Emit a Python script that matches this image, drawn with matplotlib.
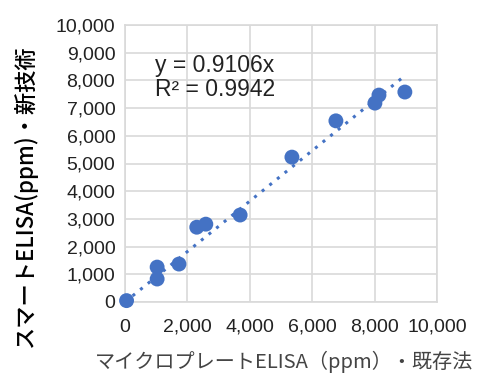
import matplotlib
matplotlib.use("Agg")
import matplotlib.pyplot as plt
import numpy as np

x_vals = [50, 1030, 1030, 1730, 2300, 2590, 3690, 5350, 6760, 8010, 8140, 8970]
y_vals = [50, 1260, 830, 1370, 2700, 2810, 3140, 5230, 6540, 7180, 7470, 7580]
slope = 0.9106
r2 = 0.9942
ticks = [0, 2000, 4000, 6000, 8000, 10000]
yticks = list(range(0, 10001, 1000))

plt.rcParams['font.family'] = ['Liberation Sans', 'Noto Sans CJK JP', 'DejaVu Sans']

fig = plt.figure(figsize=(4.78, 3.74), dpi=100)
ax = fig.add_axes([125/478, 1-302/374, (437-125)/478, (302-25)/374])

blue = '#4472C4'
xs = np.array([0, max(x_vals)])
ax.plot(xs, slope*xs, linestyle=(0, (1, 2.2)), color=blue, linewidth=2.2, zorder=2)
ax.scatter(x_vals, y_vals, s=115, color=blue, zorder=3, edgecolors='none', clip_on=False)

ax.set_xlim(0, 10000)
ax.set_ylim(0, 10000)
ax.set_xticks(ticks)
ax.set_yticks(yticks)
ax.set_xticklabels([f"{t:,}" for t in ticks])
ax.set_yticklabels([f"{t:,}" for t in yticks])
ax.tick_params(length=0, labelsize=14, colors='#222222', pad=7)
ax.tick_params(axis='x', pad=12)
ax.grid(True, color='#D9D9D9', linewidth=1.2)
ax.set_axisbelow(True)
for s in ax.spines.values():
    s.set_color('#D9D9D9')
    s.set_linewidth(1.2)

ax.text(0.095, 0.81, f"y = {slope}x\nR² = {r2}", transform=ax.transAxes,
        fontsize=16.5, va='center', ha='left', linespacing=1.08, color='#222222')

fig.text(284/478, 1-362/374, 'マイクロプレートELISA（ppm）・既存法', ha='center', va='center',
         fontsize=14.5, color='#444444', family=['Noto Sans CJK JP', 'DejaVu Sans'])
fig.text(25/478, 1-197/374, 'スマートELISA(ppm)・新技術', ha='center', va='center', rotation=90,
         fontsize=16, fontweight='medium', color='#000000', family=['Noto Sans CJK JP', 'DejaVu Sans'])

fig.savefig('out.png', dpi=100)
